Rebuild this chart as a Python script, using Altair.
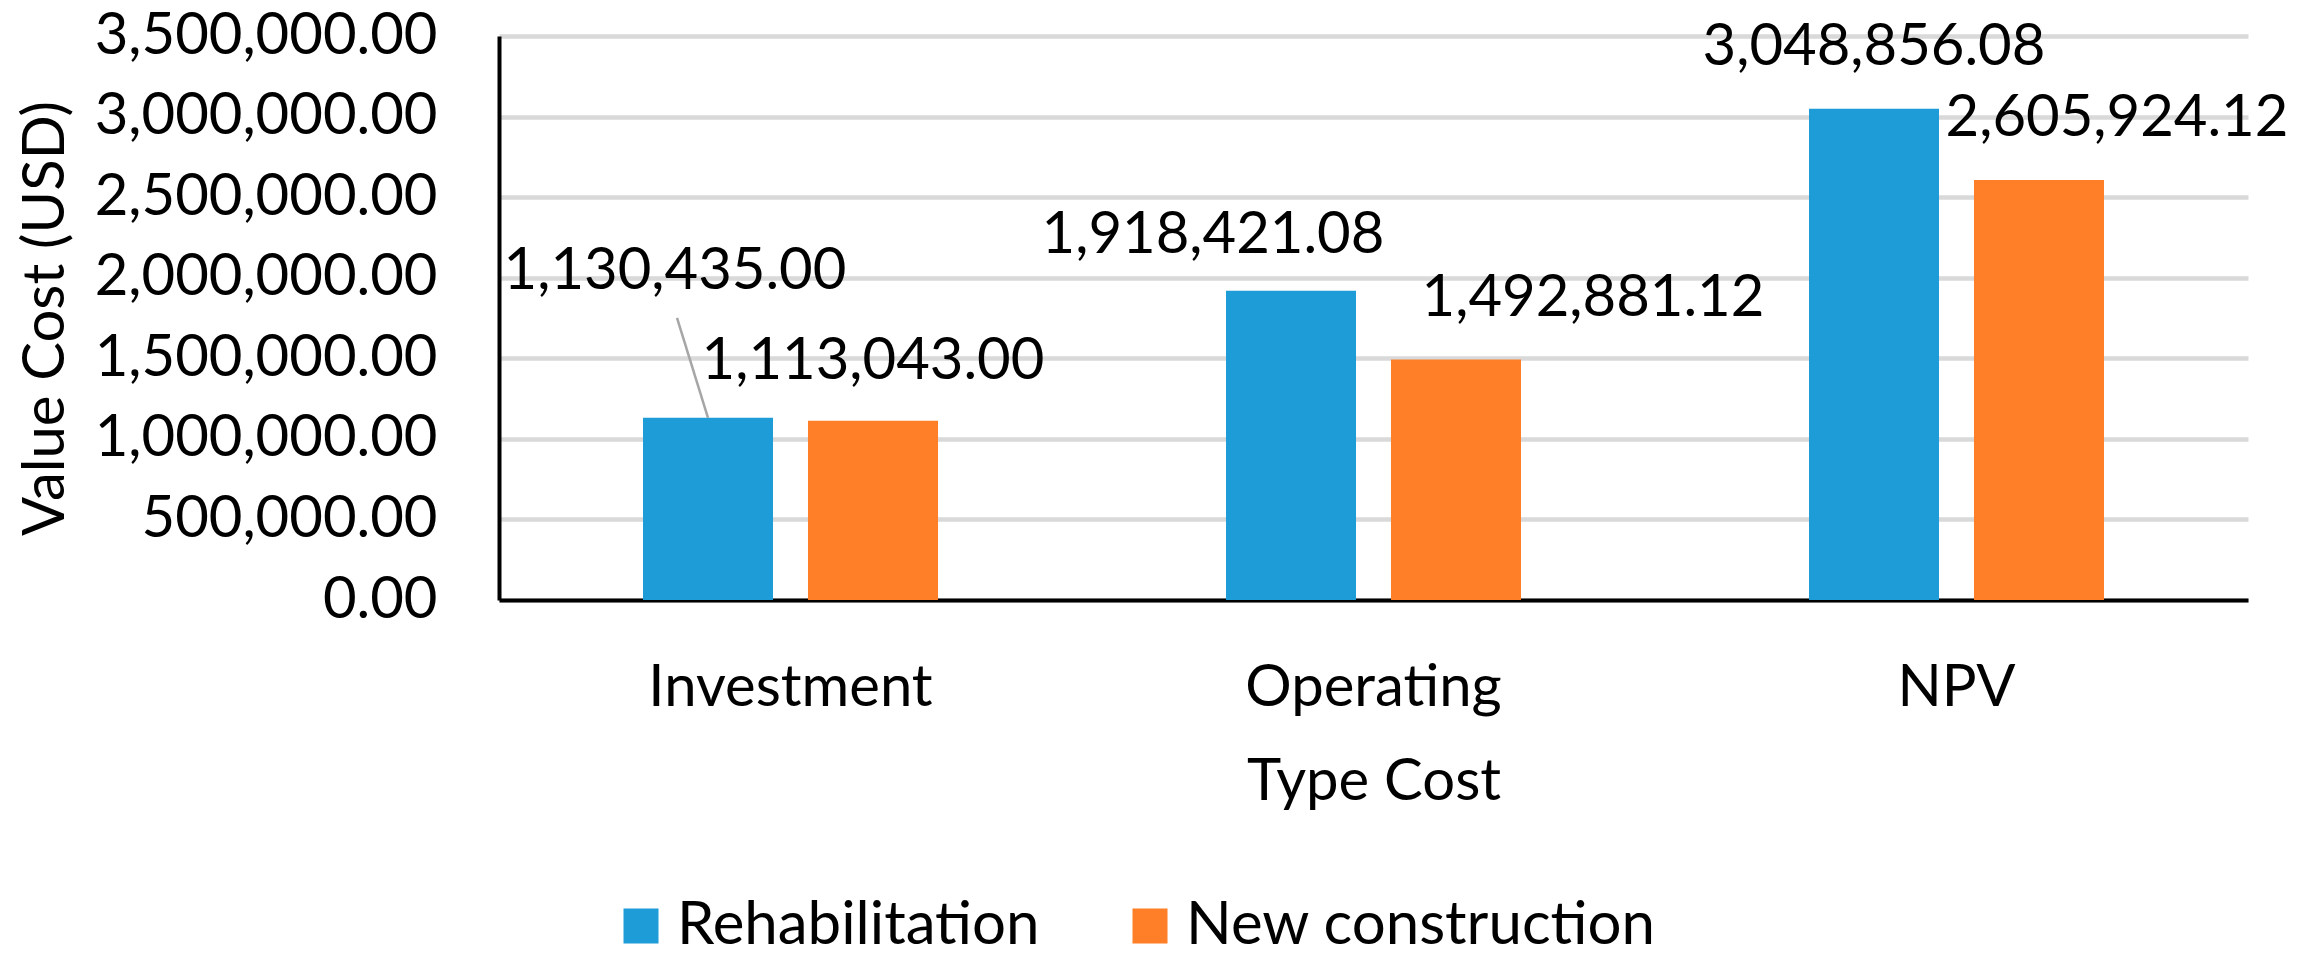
import altair as alt
import pandas as pd

categories = ["Investment", "Operating", "NPV"]
series = ["Rehabilitation", "New construction"]
rehab_values = [1130435.00, 1918421.08, 3048856.08]
newc_values = [1113043.00, 1492881.12, 2605924.12]
y_ticks = [0, 500000, 1000000, 1500000, 2000000, 2500000, 3000000, 3500000]

rows = []
for c, v in zip(categories, rehab_values):
    rows.append({"cat": c, "series": series[0], "value": v})
for c, v in zip(categories, newc_values):
    rows.append({"cat": c, "series": series[1], "value": v})
df = pd.DataFrame(rows)

# label offsets (px) relative to bar top centre, as placed in the original
label_offsets = {
    ("Investment", "Rehabilitation"): (-33, -146),
    ("Investment", "New construction"): (0, -59),
    ("Operating", "Rehabilitation"): (-78, -55),
    ("Operating", "New construction"): (137, -60),
    ("NPV", "Rehabilitation"): (0, -61),
    ("NPV", "New construction"): (78, -61),
}

FONT = "Lato"
FS = 58
BLUE = "#1E9CD8"
ORANGE = "#FE7F27"

x_enc = alt.X("cat:N", sort=categories,
              scale=alt.Scale(paddingInner=0.494, paddingOuter=0.247),
              axis=alt.Axis(labelAngle=0, labelFont=FONT, labelFontSize=FS,
                            labelColor="black", labelPadding=88,
                            labelBaseline="middle", labelLimit=0,
                            ticks=False, tickSize=0, domainColor="black",
                            domainWidth=4, grid=False,
                            title="Type Cost", titleFont=FONT,
                            titleFontSize=FS, titleFontWeight="normal",
                            titleColor="black", titleY=182,
                            titleBaseline="middle"))
xo_enc = alt.XOffset("series:N", sort=series,
                     scale=alt.Scale(domain=series, paddingInner=0.212,
                                     paddingOuter=0))
y_enc = alt.Y("value:Q",
              scale=alt.Scale(domain=[0, 3500000], nice=False),
              axis=alt.Axis(values=y_ticks, format=",.2f", labelFont=FONT,
                            labelFontSize=FS, labelColor="black",
                            labelPadding=62, labelLimit=0,
                            ticks=False, tickSize=0,
                            domainColor="black", domainWidth=4,
                            gridColor="#D9D9D9", gridWidth=4.5,
                            title="Value Cost (USD)", titleFont=FONT,
                            titleFontSize=FS, titleFontWeight="normal",
                            titleColor="black", titleAngle=270,
                            titleX=-453, titleY=282, titleAlign="center",
                            titleBaseline="middle"))

color_enc = alt.Color("series:N",
                      scale=alt.Scale(domain=series, range=[BLUE, ORANGE]),
                      legend=alt.Legend(title=None, orient="none",
                                        direction="horizontal",
                                        legendX=112, legendY=860,
                                        labelFont=FONT, labelFontSize=60,
                                        labelColor="black", labelOffset=6,
                                        labelLimit=0,
                                        columnPadding=80, symbolType="square",
                                        symbolSize=1225, symbolStrokeWidth=0))

base = alt.Chart(df)
bars = base.mark_bar().encode(x=x_enc, xOffset=xo_enc, y=y_enc, color=color_enc)

layers = [bars]
for (c, s), (dx, dy) in label_offsets.items():
    t = base.transform_filter(
        (alt.datum.cat == c) & (alt.datum.series == s)
    ).mark_text(font=FONT, fontSize=FS, color="black", dx=dx, dy=dy,
                baseline="middle", align="center").encode(
        x=alt.X("cat:N", sort=categories),
        xOffset=alt.XOffset("series:N", sort=series),
        y="value:Q",
        text=alt.Text("value:Q", format=",.2f"))
    layers.append(t)

leader = base.transform_filter(
    (alt.datum.cat == "Investment") & (alt.datum.series == "Rehabilitation")
).mark_point(shape="M0,0L-0.31,-1", size=40000, filled=False,
             stroke="#A6A6A6", strokeWidth=2.5, opacity=1).encode(
    x=alt.X("cat:N", sort=categories),
    xOffset=alt.XOffset("series:N", sort=series),
    y="value:Q")
layers.append(leader)

chart = alt.layer(*layers).properties(
    width=1749, height=564,
    padding={"left": 491, "top": 28, "right": 40, "bottom": 348},
    autosize=alt.AutoSizeParams(type="none"),
    background="white",
).configure_view(stroke=None)

chart.save("out.html", embed_options={"renderer": "svg", "actions": False})
